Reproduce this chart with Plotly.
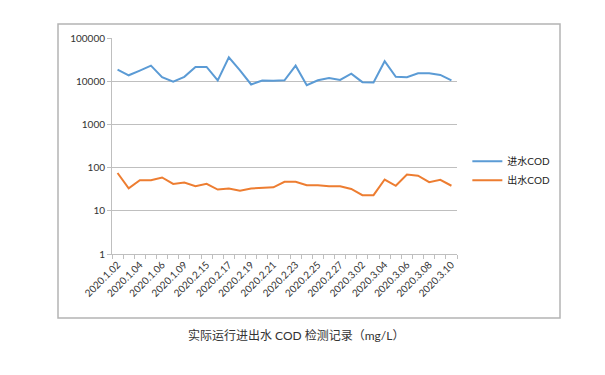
import plotly.graph_objects as go

dates = ["2020.1.02", "2020.1.03", "2020.1.04", "2020.1.05", "2020.1.06", "2020.1.07",
         "2020.1.08", "2020.1.09", "2020.1.10", "2020.2.15", "2020.2.16", "2020.2.17",
         "2020.2.18", "2020.2.19", "2020.2.20", "2020.2.21", "2020.2.22", "2020.2.23",
         "2020.2.24", "2020.2.25", "2020.2.26", "2020.2.27", "2020.2.28", "2020.3.02",
         "2020.3.03", "2020.3.04", "2020.3.05", "2020.3.06", "2020.3.07", "2020.3.08",
         "2020.3.10"]
shown_labels = ["2020.1.02", "2020.1.04", "2020.1.06", "2020.1.09", "2020.2.15", "2020.2.17",
                "2020.2.19", "2020.2.21", "2020.2.23", "2020.2.25", "2020.2.27", "2020.3.02",
                "2020.3.04", "2020.3.06", "2020.3.08", "2020.3.10"]

influent_cod = [18600, 13700, 17600, 22900, 12400, 9800, 12600, 21400, 21400, 10400,
                35800, 17900, 8400, 10400, 10200, 10500, 22900, 8100, 10500, 11900,
                10700, 15000, 9500, 9300, 29000, 12600, 12400, 15300, 15300, 14000, 10400]
effluent_cod = [75, 33, 51, 51, 59, 42, 45, 37, 42, 31, 33, 29, 33, 34, 35, 47, 47, 39,
                39, 37, 37, 32, 23, 23, 53, 38, 69, 65, 46, 52, 38]

ytick_vals = [1, 10, 100, 1000, 10000, 100000]
ytick_text = ["1", "10", "100", "1000", "10000", "100000"]

tick_text = []
j = 0
for i, d in enumerate(dates):
    if i % 2 == 0:
        tick_text.append(shown_labels[j])
        j += 1
    else:
        tick_text.append("")

fig = go.Figure()
fig.add_trace(go.Scatter(x=dates, y=influent_cod, mode="lines", name="进水COD",
                         line=dict(color="#5b9bd5", width=2)))
fig.add_trace(go.Scatter(x=dates, y=effluent_cod, mode="lines", name="出水COD",
                         line=dict(color="#ed7d31", width=2)))

font_main = "Lato, 'Noto Sans CJK SC', sans-serif"

# page body has an 8px margin; compensate so the chart lands where the reference has it
off = 8
L, T, PW, PH = 112 - off, 38 - off, 345, 216
W, H = 605 - off, 375 - off

fig.update_layout(
    width=W, height=H,
    margin=dict(l=L, r=W - L - PW, t=T, b=H - T - PH),
    paper_bgcolor="white", plot_bgcolor="white",
    font=dict(family=font_main, color="#333333", size=10),
    showlegend=True,
    legend=dict(x=1.03, y=0.385, xanchor="left", yanchor="middle",
                font=dict(size=10, color="#222222", family=font_main),
                bgcolor="rgba(0,0,0,0)", tracegroupgap=0, itemwidth=30),
    xaxis=dict(type="category", tickmode="array", tickvals=dates, ticktext=tick_text,
               tickangle=-45, tickson="boundaries", ticks="outside", ticklen=4,
               tickcolor="#bfbfbf", showline=True, linecolor="#bfbfbf", linewidth=1,
               showgrid=False, range=[-0.5, len(dates) - 0.5], automargin=False,
               tickfont=dict(size=10, color="#333333")),
    yaxis=dict(type="log", range=[0, 5], tickmode="array", tickvals=ytick_vals,
               ticktext=ytick_text, ticks="outside", ticklen=4, tickcolor="#bfbfbf",
               showline=True, linecolor="#bfbfbf", linewidth=1, automargin=False,
               showgrid=True, gridcolor="#bfbfbf", gridwidth=1, zeroline=False,
               tickfont=dict(size=10, color="#333333")),
)

# outer chart frame
fig.add_shape(type="rect", xref="paper", yref="paper",
              x0=(58 - 112) / 345, x1=(560 - 112) / 345,
              y0=(254 - 318) / 216, y1=(254 - 24) / 216,
              line=dict(color="#b4b4b4", width=1.5), fillcolor="rgba(0,0,0,0)", layer="below")

fig.add_annotation(text="实际运行进出水 COD 检测记录（mg/L）", xref="paper", yref="paper",
                   x=(296 - 112) / 345, y=(254 - 335) / 216, showarrow=False,
                   xanchor="center", yanchor="middle",
                   font=dict(size=12, color="#333333", family=font_main))

fig.write_html("out.html")
